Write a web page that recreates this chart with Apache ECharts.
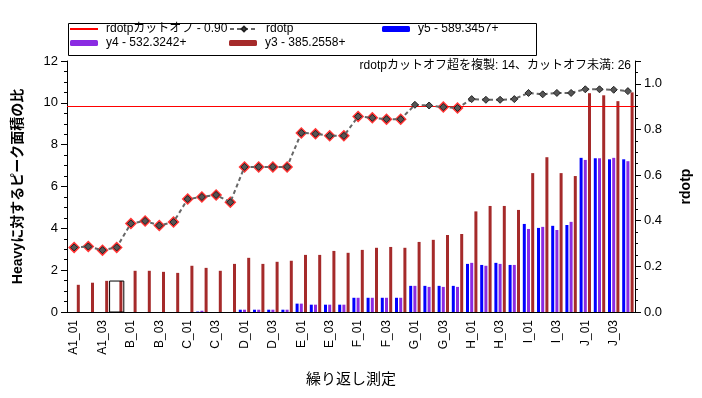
<!DOCTYPE html>
<html>
<head>
<meta charset="utf-8">
<script src="https://cdn.jsdelivr.net/npm/echarts@6/dist/echarts.min.js"></script>
<style>
    html, body { margin: 0; padding: 0; background: #fff; }
    #chart { width: 702px; height: 398px; }
</style>
</head>
<body>
<div id="chart"></div>
<script>
// categories: 10 groups x 4 replicates
var groups = ['A1', 'B', 'C', 'D', 'E', 'F', 'G', 'H', 'I', 'J'];
var categories = [];
groups.forEach(function (g) {
    ['01', '02', '03', '04'].forEach(function (r) { categories.push(g + '_' + r); });
});

var cutoff = 0.9;
var selectedIndex = 3;

var rdotp = [0.283, 0.287, 0.271, 0.283, 0.388, 0.399, 0.379, 0.394, 0.495, 0.504,
             0.513, 0.481, 0.636, 0.636, 0.636, 0.636, 0.785, 0.781, 0.772, 0.772,
             0.857, 0.851, 0.845, 0.845, 0.908, 0.905, 0.898, 0.894, 0.933, 0.930,
             0.930, 0.933, 0.960, 0.954, 0.960, 0.960, 0.976, 0.976, 0.974, 0.968];

var y5 = [0, 0, 0, 0, 0, 0, 0, 0, 0, 0.02,
          0, 0, 0.11, 0.11, 0.11, 0.11, 0.40, 0.35, 0.35, 0.35,
          0.68, 0.68, 0.68, 0.68, 1.25, 1.25, 1.25, 1.25, 2.30, 2.25,
          2.35, 2.25, 4.21, 4.02, 4.12, 4.16, 7.37, 7.35, 7.30, 7.30];

var y4 = [0, 0, 0, 0, 0, 0, 0, 0, 0, 0.06,
          0, 0, 0.11, 0.11, 0.11, 0.11, 0.40, 0.35, 0.35, 0.35,
          0.68, 0.68, 0.68, 0.68, 1.25, 1.20, 1.20, 1.20, 2.35, 2.21,
          2.30, 2.25, 3.97, 4.07, 3.92, 4.31, 7.27, 7.35, 7.37, 7.21];

var y3 = [1.30, 1.40, 1.49, 1.48, 1.97, 1.97, 1.92, 1.87, 2.21, 2.11,
          1.97, 2.30, 2.59, 2.30, 2.40, 2.45, 2.73, 2.73, 2.92, 2.83,
          2.97, 3.07, 3.11, 3.07, 3.35, 3.45, 3.68, 3.73, 4.81, 5.07,
          5.07, 4.88, 6.64, 7.40, 6.64, 6.50, 10.46, 10.36, 10.08, 10.50];

var leftTicks = [0, 2, 4, 6, 8, 10, 12];
var rightTicks = [0.0, 0.2, 0.4, 0.6, 0.8, 1.0];

var nameCut = 'rdotpカットオフ - 0.90';
var nameY5 = 'y5 - 589.3457+';
var nameY4 = 'y4 - 532.3242+';
var nameY3 = 'y3 - 385.2558+';

var above = rdotp.filter(function (v) { return v >= cutoff; }).length;
var below = rdotp.length - above;

var FONT = "'Liberation Sans', 'Noto Sans CJK JP', sans-serif";

function legendAt(item, left, top, h) {
    return {
        data: [item],
        left: left,
        top: top,
        padding: 0,
        itemWidth: 28,
        itemHeight: h || 6,
        selectedMode: false,
        textStyle: { fontFamily: FONT, fontSize: 12, color: '#000', padding: [0, 0, 0, 3] }
    };
}

var chart = echarts.init(document.getElementById('chart'));
var option = {
    animation: false,
    textStyle: { fontFamily: FONT },
    title: {
        text: 'rdotpカットオフ超を複製: ' + above + '、カットオフ未満: ' + below,
        right: 71,
        top: 60,
        padding: 0,
        textStyle: { fontFamily: FONT, fontSize: 12, fontWeight: 'normal', color: '#000' }
    },
    graphic: [{
        type: 'rect',
        left: 66, top: 21,
        shape: { width: 468, height: 32 },
        style: { fill: 'none', stroke: '#000', lineWidth: 1 }
    }],
    legend: [
        legendAt({ name: nameCut, icon: 'rect', itemStyle: { color: '#FF0000' } }, 70, 23, 2),
        legendAt('rdotp', 229, 23),
        legendAt(nameY5, 382, 23),
        legendAt(nameY4, 70, 37),
        legendAt(nameY3, 229, 37)
    ],
    grid: { left: 67, right: 67, top: 61, bottom: 86 },
    xAxis: {
        type: 'category',
        data: categories,
        name: '繰り返し測定',
        nameLocation: 'middle',
        nameGap: 60,
        nameTextStyle: { fontFamily: FONT, fontSize: 15, color: '#000' },
        axisLine: { lineStyle: { color: '#000' } },
        axisTick: { interval: 0, alignWithLabel: true, length: 5, lineStyle: { color: '#000' } },
        axisLabel: { interval: 1, rotate: 90, fontSize: 12, color: '#000', margin: 8 },
        splitLine: { show: false }
    },
    yAxis: [{
        type: 'value',
        min: leftTicks[0],
        max: leftTicks[leftTicks.length - 1],
        interval: 2,
        name: 'Heavyに対するピーク面積の比',
        nameLocation: 'middle',
        nameGap: 42,
        nameTextStyle: { fontFamily: FONT, fontSize: 14, fontWeight: 'bold', color: '#000' },
        axisLine: { show: true, lineStyle: { color: '#000' } },
        axisTick: { show: true, length: 6, lineStyle: { color: '#000' } },
        minorTick: { show: true, splitNumber: 4, length: 3, lineStyle: { color: '#000' } },
        axisLabel: { fontSize: 13, color: '#000', margin: 9 },
        splitLine: { show: false }
    }, {
        type: 'value',
        min: rightTicks[0],
        max: 1.1,
        interval: 0.2,
        name: 'rdotp',
        nameLocation: 'middle',
        nameGap: 44,
        nameTextStyle: { fontFamily: FONT, fontSize: 14, fontWeight: 'bold', color: '#000' },
        axisLine: { show: true, lineStyle: { color: '#000' } },
        axisTick: { show: true, length: 6, lineStyle: { color: '#000' } },
        minorTick: { show: true, splitNumber: 4, length: 3, lineStyle: { color: '#000' } },
        axisLabel: {
            fontSize: 13, color: '#000', margin: 9, showMaxLabel: false,
            formatter: function (v) { return v.toFixed(1); }
        },
        splitLine: { show: false }
    }],
    series: [
        {
            name: nameY5, type: 'bar', data: y5,
            barWidth: 3, barGap: '40%',
            itemStyle: { color: '#0000FF' }
        },
        {
            name: nameY4, type: 'bar', data: y4,
            barWidth: 3, barGap: '40%',
            itemStyle: { color: '#8A2BE2' }
        },
        {
            name: nameY3, type: 'bar', data: y3,
            barWidth: 3, barGap: '40%',
            itemStyle: { color: '#A52A2A' }
        },
        {
            // selection box around one replicate
            type: 'custom',
            z: 10,
            silent: true,
            data: [[selectedIndex, y3[selectedIndex]]],
            renderItem: function (params, api) {
                var base = api.coord([api.value(0), 0]);
                var top = api.coord([api.value(0), api.value(1)]);
                var w = api.size([1, 0])[0];
                return {
                    type: 'rect',
                    shape: { x: base[0] - w / 2, y: top[1], width: w, height: base[1] - top[1] },
                    style: { fill: 'none', stroke: '#000', lineWidth: 1 }
                };
            }
        },
        {
            name: nameCut, type: 'line', yAxisIndex: 1, data: [],
            symbol: 'none',
            lineStyle: { color: '#FF0000', width: 1 },
            itemStyle: { color: '#FF0000' },
            markLine: {
                silent: true,
                symbol: ['none', 'none'],
                label: { show: false },
                lineStyle: { color: '#FF0000', width: 1, type: 'solid' },
                data: [{ yAxis: cutoff }]
            }
        },
        {
            // red highlight behind points below the cutoff
            type: 'scatter', yAxisIndex: 1, z: 4,
            silent: true,
            symbol: 'diamond', symbolSize: 12,
            itemStyle: { color: '#FF0000' },
            data: rdotp.map(function (v) { return v < cutoff ? v : '-'; })
        },
        {
            name: 'rdotp', type: 'line', yAxisIndex: 1, z: 5,
            data: rdotp,
            symbol: 'diamond', symbolSize: 7,
            lineStyle: { color: '#666666', width: 2, type: [4, 3] },
            itemStyle: { color: '#555555', borderColor: '#222222', borderWidth: 1 }
        }
    ]
};
chart.setOption(option);
</script>
</body>
</html>
